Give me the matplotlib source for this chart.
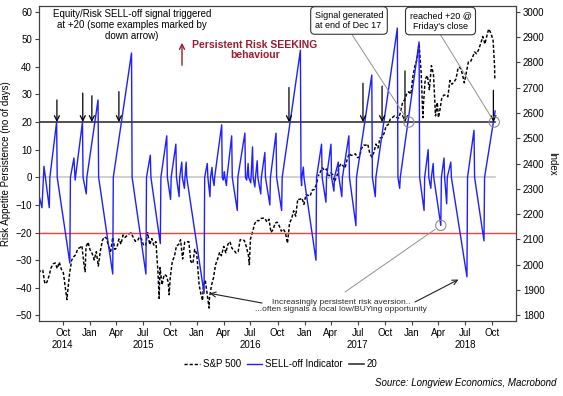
import matplotlib
matplotlib.use('Agg')
import matplotlib.pyplot as plt
import matplotlib.dates as mdates
import pandas as pd

plt.rcParams['font.family'] = ['Liberation Sans', 'DejaVu Sans']

# SELL-off indicator: risk appetite persistence (no of days)
sell_dates = [
    '2014-07-13', '2014-07-22', '2014-07-29', '2014-08-16', '2014-08-18', '2014-09-10', '2014-09-12',
    '2014-10-25', '2014-10-27', '2014-11-08', '2014-11-12', '2014-12-07', '2014-12-09', '2014-12-20',
    '2014-12-22',
    '2015-01-29', '2015-01-31', '2015-03-20', '2015-03-22', '2015-05-23', '2015-05-25', '2015-07-11',
    '2015-07-13', '2015-07-26', '2015-07-28', '2015-08-29', '2015-08-31', '2015-09-20', '2015-09-22',
    '2015-10-03', '2015-10-05', '2015-10-21', '2015-10-23', '2015-11-01', '2015-11-03', '2015-11-10',
    '2015-11-12', '2015-11-19', '2015-11-21', '2015-11-25', '2015-11-27',
    '2016-01-25', '2016-01-27', '2016-02-05', '2016-02-07', '2016-02-14', '2016-02-16', '2016-02-21',
    '2016-02-23', '2016-02-28', '2016-03-01', '2016-03-25', '2016-03-27', '2016-03-30', '2016-04-01',
    '2016-04-03', '2016-04-05', '2016-04-10', '2016-04-12', '2016-04-28', '2016-04-30', '2016-05-17',
    '2016-05-19', '2016-06-12', '2016-06-14', '2016-06-18', '2016-06-19', '2016-06-23', '2016-06-25',
    '2016-07-02', '2016-07-03', '2016-07-08', '2016-07-10', '2016-07-16', '2016-07-18', '2016-07-24',
    '2016-07-26', '2016-08-05', '2016-08-07', '2016-08-19', '2016-08-21', '2016-09-05', '2016-09-07',
    '2016-09-26', '2016-09-28', '2016-10-15', '2016-10-17', '2016-12-18', '2016-12-20', '2016-12-22',
    '2016-12-23', '2016-12-28', '2016-12-30',
    '2017-02-09', '2017-02-11', '2017-02-28', '2017-03-02', '2017-03-15', '2017-03-17', '2017-04-01',
    '2017-04-03', '2017-04-11', '2017-04-13', '2017-04-26', '2017-04-28', '2017-05-08', '2017-05-10',
    '2017-06-01', '2017-06-03', '2017-06-25', '2017-06-27', '2017-08-18', '2017-08-20', '2017-08-30',
    '2017-09-01', '2017-11-13', '2017-11-15', '2017-11-21', '2017-11-23',
    '2018-01-26', '2018-01-28', '2018-02-12', '2018-02-14', '2018-02-26', '2018-02-28', '2018-03-07',
    '2018-03-09', '2018-03-15', '2018-03-17', '2018-04-10', '2018-04-12', '2018-04-21', '2018-04-23',
    '2018-04-30', '2018-05-02', '2018-05-14', '2018-05-16', '2018-07-08', '2018-07-10', '2018-08-01',
    '2018-08-03', '2018-09-04', '2018-09-06', '2018-10-12',
]
sell_vals = [
    -7, -11, 4, -11, 0, 20, 0,
    -31, 0, 7, -1, 20, 0, -6,
    0,
    28, 0, -35, 0, 45, 0, -35,
    0, 8, 0, -24, 0, 15, 0,
    -8, 0, 12, 0, -7, 0, 5.5,
    0, -4, 0, 5.5, 0,
    -42, 0, 5, 0, -7, 0, 3.6,
    0, -3, 0, 19, 0, -1, 0,
    2, 0, -3, 0, 15, 0, -12,
    0, 16, 0, -1, 0, 5, 0,
    -2, 0, 11, 0, -3.5, 0, 6,
    0, -6, 0, 9, 0, -10, 0,
    16, 0, -12, 0, 46, 0, -3,
    0, 3.7, 0,
    -30, 0, 12, 0, -9, 0, 12,
    0, -5, 0, 5.5, 0, -7, 0,
    15, 0, -17.5, 0, 37, 0, -7,
    0, 54, 0, -4, 0,
    49, 0, -12, 0, 10, 0, -4,
    0, 5, 0, -17.4, 0, 7, 0,
    -9.6, 0, 5.5, 0, -36, 0, 17,
    0, -23, 0, 24,
]

# S&P 500 (right axis)
spx_dates = [
    '2014-07-11', '2014-07-18', '2014-07-25', '2014-08-01', '2014-08-08', '2014-08-15', '2014-08-22',
    '2014-08-29', '2014-09-05', '2014-09-12', '2014-09-19', '2014-09-26', '2014-10-03', '2014-10-10',
    '2014-10-15', '2014-10-17', '2014-10-24', '2014-10-31', '2014-11-07', '2014-11-14', '2014-11-21',
    '2014-11-28', '2014-12-05', '2014-12-12', '2014-12-16', '2014-12-19', '2014-12-26',
    '2015-01-02', '2015-01-09', '2015-01-16', '2015-01-23', '2015-01-30', '2015-02-06', '2015-02-13',
    '2015-02-20', '2015-02-27', '2015-03-06', '2015-03-13', '2015-03-20', '2015-03-27', '2015-04-03',
    '2015-04-10', '2015-04-17', '2015-04-24', '2015-05-01', '2015-05-08', '2015-05-15', '2015-05-22',
    '2015-05-29', '2015-06-05', '2015-06-12', '2015-06-19', '2015-06-26', '2015-07-03', '2015-07-10',
    '2015-07-17', '2015-07-24', '2015-07-31', '2015-08-07', '2015-08-14', '2015-08-21', '2015-08-25',
    '2015-08-28', '2015-09-04', '2015-09-11', '2015-09-18', '2015-09-25', '2015-09-28', '2015-10-02',
    '2015-10-09', '2015-10-16', '2015-10-23', '2015-10-30', '2015-11-06', '2015-11-13', '2015-11-20',
    '2015-11-27', '2015-12-04', '2015-12-11', '2015-12-18', '2015-12-24', '2015-12-31',
    '2016-01-08', '2016-01-15', '2016-01-20', '2016-01-22', '2016-01-29', '2016-02-05', '2016-02-11',
    '2016-02-12', '2016-02-19', '2016-02-26', '2016-03-04', '2016-03-11', '2016-03-18', '2016-03-24',
    '2016-04-01', '2016-04-08', '2016-04-15', '2016-04-22', '2016-04-29', '2016-05-06', '2016-05-13',
    '2016-05-20', '2016-05-27', '2016-06-03', '2016-06-10', '2016-06-17', '2016-06-24', '2016-06-27',
    '2016-07-01', '2016-07-08', '2016-07-15', '2016-07-22', '2016-07-29', '2016-08-05', '2016-08-12',
    '2016-08-19', '2016-08-26', '2016-09-02', '2016-09-09', '2016-09-16', '2016-09-23', '2016-09-30',
    '2016-10-07', '2016-10-14', '2016-10-21', '2016-10-28', '2016-11-04', '2016-11-11', '2016-11-18',
    '2016-11-25', '2016-12-02', '2016-12-09', '2016-12-16', '2016-12-23', '2016-12-30',
    '2017-01-06', '2017-01-13', '2017-01-20', '2017-01-27', '2017-02-03', '2017-02-10', '2017-02-17',
    '2017-02-24', '2017-03-03', '2017-03-10', '2017-03-17', '2017-03-24', '2017-03-31', '2017-04-07',
    '2017-04-13', '2017-04-21', '2017-04-28', '2017-05-05', '2017-05-12', '2017-05-19', '2017-05-26',
    '2017-06-02', '2017-06-09', '2017-06-16', '2017-06-23', '2017-06-30', '2017-07-07', '2017-07-14',
    '2017-07-21', '2017-07-28', '2017-08-04', '2017-08-11', '2017-08-18', '2017-08-25', '2017-09-01',
    '2017-09-08', '2017-09-15', '2017-09-22', '2017-09-29', '2017-10-06', '2017-10-13', '2017-10-20',
    '2017-10-27', '2017-11-03', '2017-11-10', '2017-11-17', '2017-11-24', '2017-12-01', '2017-12-08',
    '2017-12-15', '2017-12-22', '2017-12-29',
    '2018-01-05', '2018-01-12', '2018-01-19', '2018-01-26', '2018-02-02', '2018-02-08', '2018-02-09',
    '2018-02-16', '2018-02-23', '2018-03-02', '2018-03-09', '2018-03-16', '2018-03-23', '2018-03-29',
    '2018-04-02', '2018-04-06', '2018-04-13', '2018-04-20', '2018-04-27', '2018-05-04', '2018-05-11',
    '2018-05-18', '2018-05-25', '2018-06-01', '2018-06-08', '2018-06-15', '2018-06-22', '2018-06-29',
    '2018-07-06', '2018-07-13', '2018-07-20', '2018-07-27', '2018-08-03', '2018-08-10', '2018-08-17',
    '2018-08-24', '2018-08-31', '2018-09-07', '2018-09-14', '2018-09-20', '2018-09-28', '2018-10-05',
    '2018-10-10', '2018-10-11',
]
spx_vals = [
    1967.6, 1978.2, 1978.3, 1925.2, 1931.6, 1955.1, 1988.4,
    2003.4, 2007.7, 1985.5, 2010.4, 1982.9, 1967.9, 1906.1,
    1862.5, 1886.8, 1964.6, 2018.1, 2031.9, 2039.8, 2063.5,
    2067.6, 2075.4, 2002.3, 1972.7, 2070.7, 2088.8,
    2058.2, 2044.8, 2019.4, 2051.8, 1995.0, 2055.5, 2097.0,
    2110.3, 2104.5, 2071.3, 2053.4, 2108.1, 2061.0, 2067.0,
    2102.1, 2081.2, 2117.7, 2108.3, 2116.1, 2122.7, 2126.1,
    2107.4, 2092.8, 2094.1, 2110.0, 2101.5, 2076.8, 2076.6,
    2126.6, 2079.7, 2103.8, 2077.6, 2091.5, 1970.9, 1867.6,
    1988.9, 1921.2, 1961.1, 1958.0, 1931.3, 1881.8, 1951.4,
    2014.9, 2033.1, 2075.2, 2079.4, 2099.2, 2023.0, 2089.2,
    2090.1, 2091.7, 2012.4, 2005.6, 2061.0, 2043.9,
    1922.0, 1880.3, 1859.3, 1906.9, 1940.2, 1880.1, 1829.1,
    1864.8, 1917.8, 1948.1, 2000.0, 2022.2, 2049.6, 2035.9,
    2072.8, 2047.6, 2080.7, 2091.6, 2065.3, 2057.1, 2046.6,
    2052.3, 2099.1, 2099.1, 2096.1, 2071.2, 2037.4, 2000.5,
    2103.0, 2129.9, 2161.7, 2175.0, 2173.6, 2182.9, 2184.1,
    2183.9, 2169.0, 2180.0, 2127.8, 2139.2, 2164.7, 2168.3,
    2153.7, 2133.0, 2141.2, 2126.4, 2085.2, 2164.5, 2181.9,
    2213.4, 2192.0, 2259.5, 2258.1, 2263.8, 2238.8,
    2277.0, 2274.6, 2271.3, 2294.7, 2297.4, 2316.1, 2351.2,
    2367.3, 2383.1, 2372.6, 2378.3, 2344.0, 2362.7, 2355.5,
    2329.0, 2348.7, 2384.2, 2399.3, 2390.9, 2381.7, 2415.8,
    2439.1, 2431.8, 2433.2, 2438.3, 2423.4, 2425.2, 2459.3,
    2472.5, 2472.1, 2476.8, 2441.3, 2425.6, 2443.1, 2476.6,
    2461.4, 2500.2, 2502.2, 2519.4, 2549.3, 2553.2, 2575.2,
    2581.1, 2587.8, 2582.3, 2578.9, 2602.4, 2642.2, 2651.5,
    2675.8, 2683.3, 2673.6,
    2743.2, 2786.2, 2810.3, 2872.9, 2762.1, 2581.0, 2619.6,
    2732.2, 2747.3, 2691.3, 2786.6, 2752.0, 2588.3, 2640.9,
    2581.9, 2604.5, 2656.3, 2670.1, 2669.9, 2663.4, 2727.7,
    2713.0, 2721.3, 2734.6, 2779.0, 2779.4, 2754.9, 2718.4,
    2759.8, 2801.3, 2801.8, 2818.8, 2840.4, 2833.3, 2850.1,
    2874.7, 2901.5, 2871.7, 2905.0, 2930.8, 2914.0, 2885.6,
    2785.7, 2728.4,
]

threshold = 20
# sell-off signals marked with down arrows (date, arrow top)
arrow_dates = ['2014-09-11', '2014-12-08', '2015-01-08', '2015-04-10', '2016-11-09',
               '2017-07-19', '2017-09-22', '2017-12-09', '2018-10-06']
arrow_tops = [28, 30.5, 29.5, 31, 32.5, 34, 33, 38.5, 31.5]
circle_dates = ['2017-12-22', '2018-10-09', '2018-04-10']
circle_vals = [20, 20, -17.4]

W, H = 563, 396


def fp(x, y):
    # pixel position measured from the top-left corner -> figure fraction
    return (x / W, 1 - y / H)


def dn(s):
    return mdates.date2num(pd.Timestamp(s))


maroon = '#9b1c2e'
fig = plt.figure(figsize=(W / 100, H / 100), dpi=100)
ax = fig.add_axes([39 / W, 1 - 321 / H, 477 / W, 315 / H])
ax2 = ax.twinx()
ax.set_zorder(ax2.get_zorder() + 1)
ax.patch.set_visible(False)

sd = pd.to_datetime(sell_dates)
l_spx, = ax2.plot(pd.to_datetime(spx_dates), spx_vals, color='black', lw=1.05,
                  ls=(0, (2.2, 1.3)), label='S&P 500')
ax.plot([sd[0], sd[-1]], [0, 0], color='#c8c8c8', lw=1.2)
ax.axhline(-threshold, color='#ff3b3b', lw=1.0)
l_20, = ax.plot([sd[0], sd[-1]], [threshold, threshold], color='#333333', lw=1.2, label='20')
l_sell, = ax.plot(sd, sell_vals, color='#1f1fff', lw=1.0, label='SELL-off Indicator')

ax.set_xlim(pd.Timestamp('2014-07-12'), pd.Timestamp('2018-12-22'))
ax.set_ylim(-52, 62)
ax2.set_ylim(1778.2, 3021.8)
ax.set_yticks(range(-50, 61, 10))
ax2.set_yticks(range(1800, 3001, 100))

qt = pd.date_range('2014-10-01', '2018-10-01', freq='3MS')
qlab = []
for i, d in enumerate(qt):
    lab = d.strftime('%b')
    if d.month == 7 or i == 0:
        lab += '\n' + str(d.year)
    qlab.append(lab)
ax.set_xticks(qt)
ax.set_xticklabels(qlab)

for a in (ax, ax2):
    for s in a.spines.values():
        s.set_color('#404040')
    a.tick_params(labelsize=7, length=3, color='#404040', pad=2)
ax.set_ylabel('Risk Appetite Persistence (no of days)', fontsize=7, labelpad=3)
ax2.set_ylabel('Index', fontsize=7, rotation=270, labelpad=9)

# down arrows at the +20 signals
for d, top in zip(arrow_dates, arrow_tops):
    ax.annotate('', xy=(dn(d), threshold), xytext=(dn(d), top),
                arrowprops=dict(arrowstyle='->', color='black', lw=0.9,
                                shrinkA=0, shrinkB=0, mutation_scale=9))

ax.scatter(pd.to_datetime(circle_dates), circle_vals, s=55, facecolors='none',
           edgecolors='#8c8c8c', linewidths=0.8, zorder=6)

fig.text(*fp(132, 9), 'Equity/Risk SELL-off signal triggered\nat +20 (some examples marked by\ndown arrow)',
         ha='center', va='top', fontsize=7, linespacing=1.1)
fig.text(*fp(255, 50), 'Persistent Risk SEEKING\nbehaviour', ha='center', va='center',
         fontsize=7.5, fontweight='bold', color=maroon, linespacing=1.1)
ax.annotate('', xy=fp(182, 40), xytext=fp(182, 68), xycoords='figure fraction',
            textcoords='figure fraction',
            arrowprops=dict(arrowstyle='->', color=maroon, lw=1.0, mutation_scale=9))

box = dict(boxstyle='round,pad=0.45', fc='white', ec='#333333', lw=0.8)
fig.text(*fp(349, 20.5), 'Signal generated\nat end of Dec 17', ha='center', va='center',
         fontsize=6.5, multialignment='left', bbox=box, zorder=10)
fig.text(*fp(440.5, 21), "reached +20 @\nFriday's close", ha='center', va='center',
         fontsize=6.5, multialignment='center', bbox=box, zorder=10)

gray_line = dict(arrowstyle='-', color='#909090', lw=0.7, shrinkA=0, shrinkB=5)
ax.annotate('', xy=(dn(circle_dates[0]), circle_vals[0]), xytext=fp(351, 33),
            textcoords='figure fraction', arrowprops=gray_line)
ax.annotate('', xy=(dn(circle_dates[1]), circle_vals[1]), xytext=fp(440, 34),
            textcoords='figure fraction', arrowprops=gray_line)
ax.annotate('', xy=(dn(circle_dates[2]), circle_vals[2]), xytext=fp(345, 292),
            textcoords='figure fraction', arrowprops=gray_line)

fig.text(*fp(341, 306), 'Increasingly persistent risk aversion..\n...often signals a local low/BUYing opportunity',
         ha='center', va='center', fontsize=6, color='#2a2a2a', linespacing=1.1)
black_arrow = dict(arrowstyle='->', color='#222222', lw=0.8, shrinkA=0, shrinkB=0, mutation_scale=9)
ax.annotate('', xy=(dn('2016-02-13'), -42), xytext=fp(262, 303),
            textcoords='figure fraction', arrowprops=black_arrow)
ax.annotate('', xy=(dn('2018-06-09'), -37), xytext=fp(415, 302),
            textcoords='figure fraction', arrowprops=black_arrow)

fig.legend([l_spx, l_sell, l_20], ['S&P 500', 'SELL-off Indicator', '20'], loc='center',
           bbox_to_anchor=fp(281, 364), ncol=3, frameon=False, fontsize=7,
           handlelength=1.6, handletextpad=0.3, columnspacing=0.6)
fig.text(*fp(556, 383), 'Source: Longview Economics, Macrobond', ha='right', va='center',
         fontsize=7, style='italic')

fig.savefig('out.png', dpi=100)
